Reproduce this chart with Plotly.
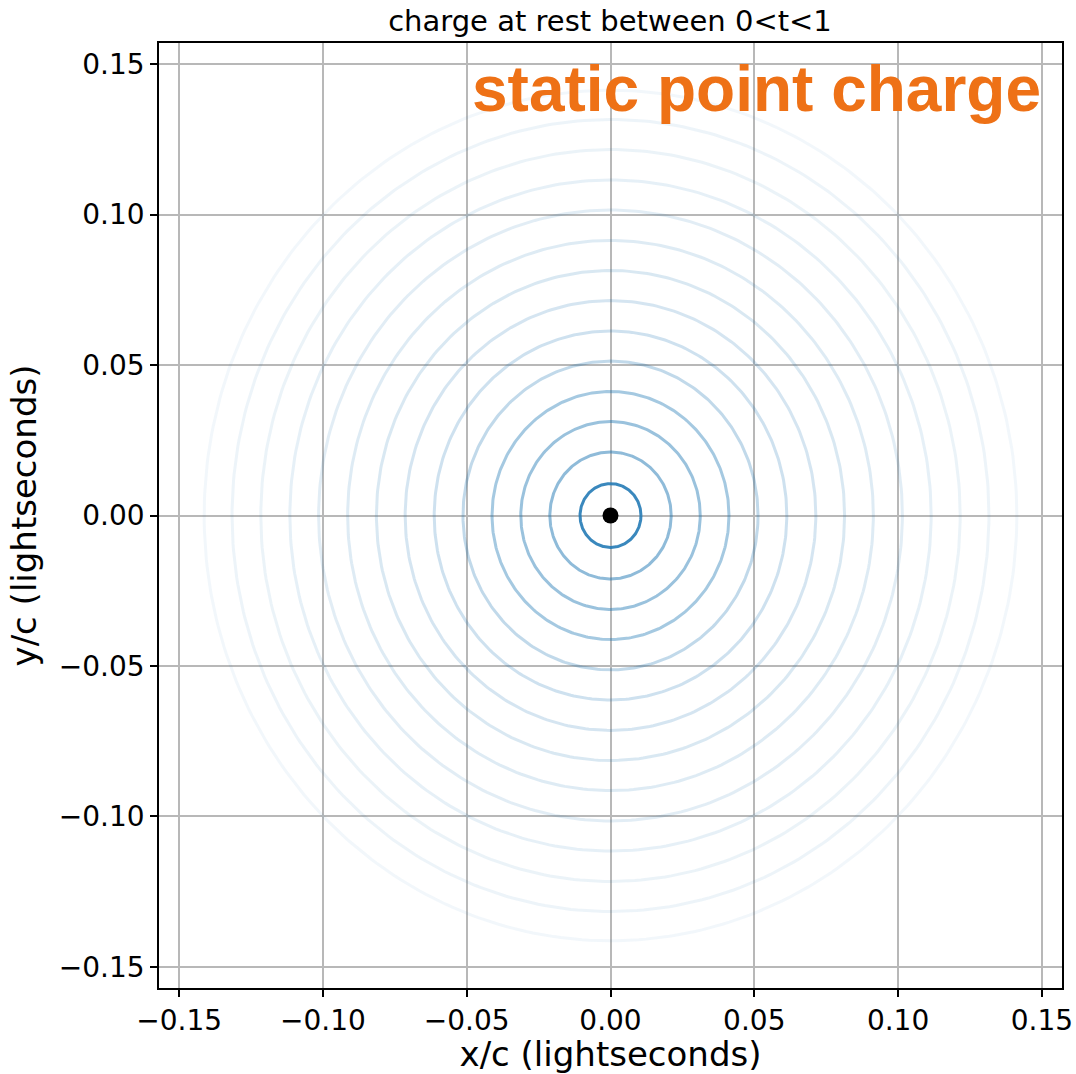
import numpy as np
import plotly.graph_objects as go

# data
radii = [0.0106, 0.0211, 0.0312, 0.0412, 0.0513, 0.0613, 0.0714,
         0.0814, 0.0914, 0.1015, 0.1115, 0.1216, 0.1316, 0.1413]
alphas = [0.88, 0.5, 0.45, 0.4, 0.28, 0.22, 0.19, 0.17, 0.15,
          0.13, 0.11, 0.09, 0.08, 0.06]
charge_x = [0.0]
charge_y = [0.0]
tick_vals = [-0.15, -0.10, -0.05, 0.00, 0.05, 0.10, 0.15]
tick_text = ["\u22120.15", "\u22120.10", "\u22120.05", "0.00", "0.05", "0.10", "0.15"]

theta = np.linspace(0, 2 * np.pi, 361)
fig = go.Figure()
for r, a in zip(radii, alphas):
    fig.add_trace(go.Scatter(
        x=r * np.cos(theta), y=r * np.sin(theta), mode="lines",
        line=dict(color=f"rgba(31,119,180,{a})", width=3),
        hoverinfo="skip", showlegend=False))
fig.add_trace(go.Scatter(x=charge_x, y=charge_y, mode="markers",
                         marker=dict(color="black", size=16),
                         showlegend=False))

axis_common = dict(
    tickvals=tick_vals, ticktext=tick_text, range=[-0.157, 0.157],
    showgrid=True, gridcolor="#b8b8b8", gridwidth=1.5,
    zeroline=False, showline=True, linecolor="black", linewidth=1.5,
    mirror=True, ticks="outside", ticklen=7, tickwidth=1.5,
    tickcolor="black", layer="above traces", automargin=False,
    tickfont=dict(family="DejaVu Sans", size=28, color="black"),
)
pw = 1076 - 159 - 14
ph = 1074 - 43 - 86
fig.update_layout(
    width=1076, height=1074,
    margin=dict(l=159, r=14, t=43, b=86),
    paper_bgcolor="white", plot_bgcolor="white",
    title=dict(text="charge at rest between 0<t<1", x=610 / 1076, xanchor="center",
               y=0.981, yanchor="middle",
               font=dict(family="DejaVu Sans", size=29, color="black")),
    xaxis=dict(**axis_common,
               title=dict(text="x/c (lightseconds)", standoff=4,
                          font=dict(family="DejaVu Sans", size=34, color="black"))),
    yaxis=dict(**axis_common,
               title=dict(text="y/c (lightseconds)", standoff=12,
                          font=dict(family="DejaVu Sans", size=34, color="black"))),
    annotations=[dict(text="<b>static point charge</b>",
                      x=(1043 - 159) / pw, xanchor="right",
                      y=(988 - 127) / ph, yanchor="bottom",
                      xref="paper", yref="paper", showarrow=False,
                      font=dict(family="Liberation Sans", size=64, color="#EE7116"))],
)
fig.write_html("out.html")
